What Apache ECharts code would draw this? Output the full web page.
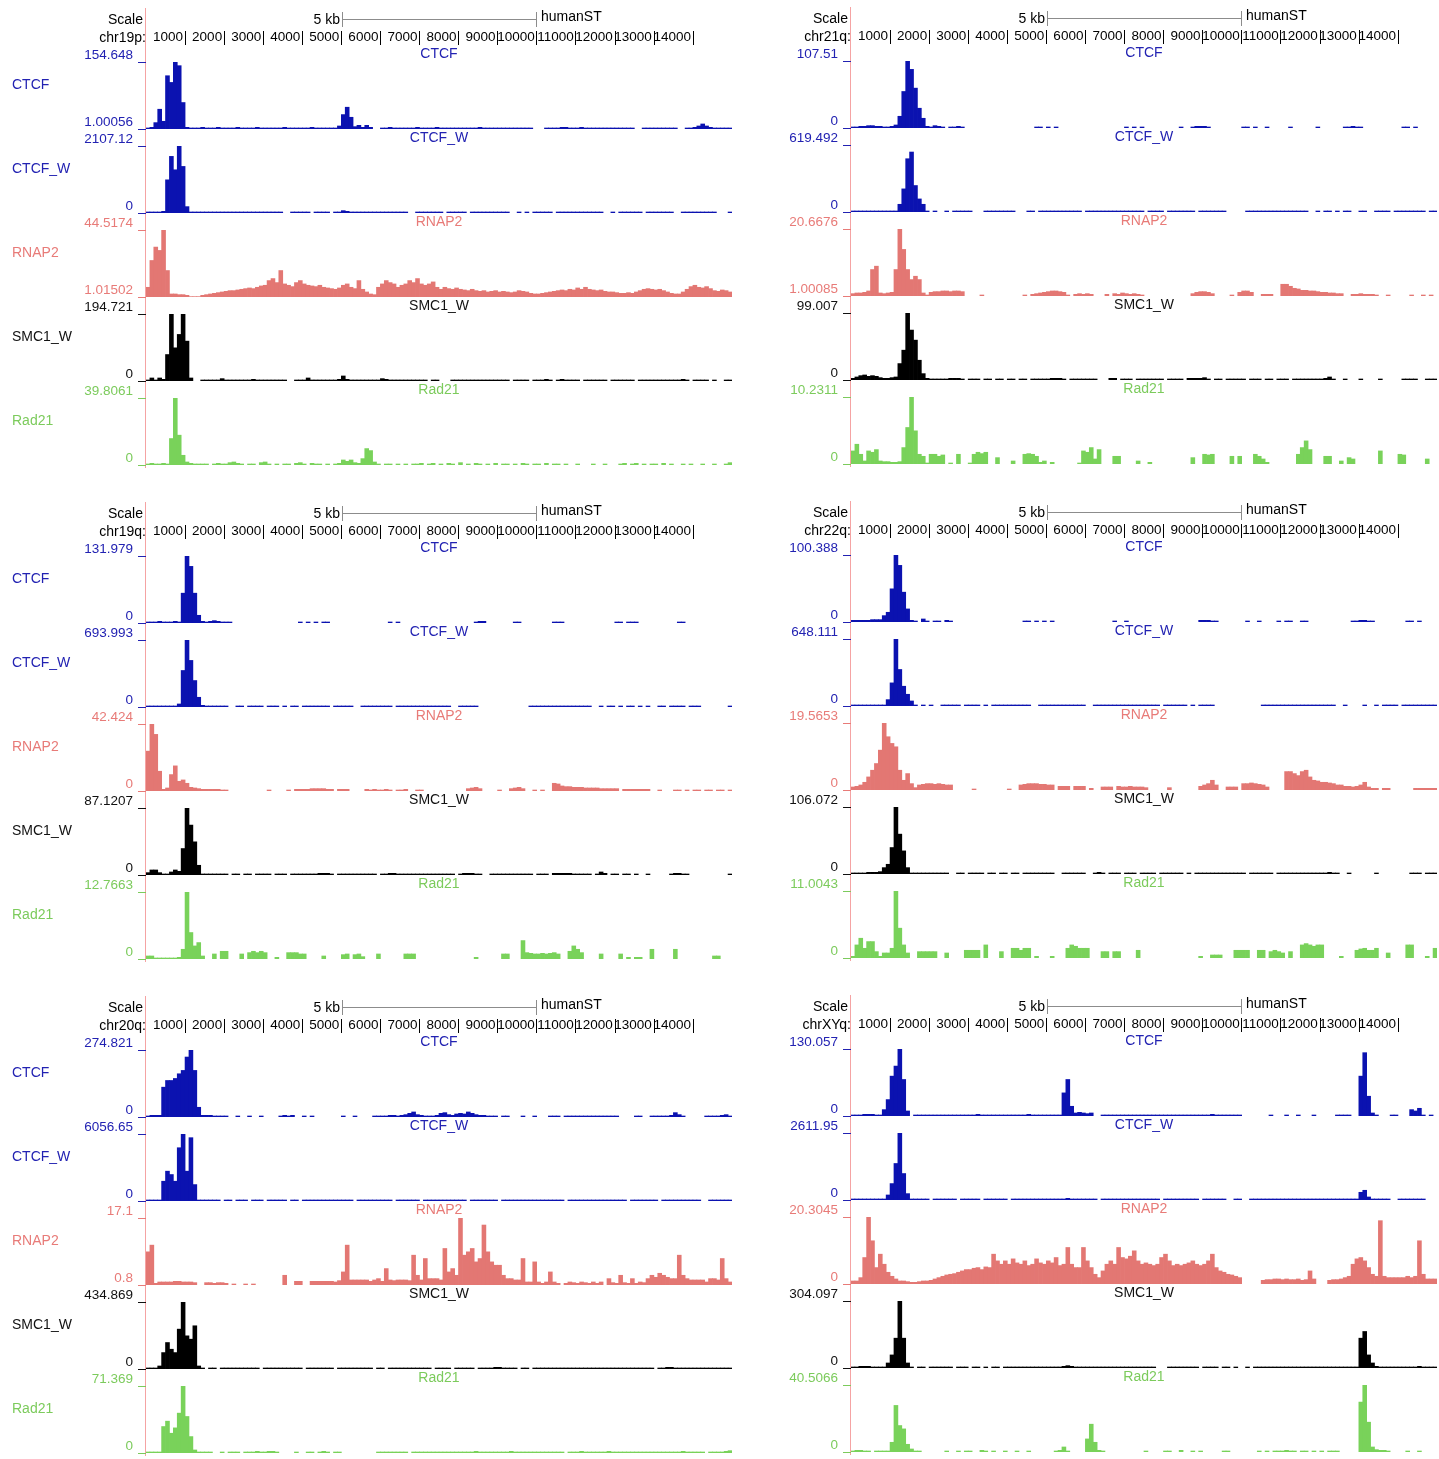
<!DOCTYPE html>
<html>
<head>
<meta charset="utf-8">
<script src="https://cdn.jsdelivr.net/npm/echarts@6/dist/echarts.min.js"></script>
<style>
  html, body { margin: 0; background: #fff; }
  #chart { width: 1439px; height: 1459px; }
</style>
</head>
<body>
<div id="chart"></div>
<script>
const _ = null;
const FONT = '"Liberation Sans", Arial, sans-serif';

const panelNames = ['chr19p', 'chr21q', 'chr19q', 'chr22q', 'chr20q', 'chrXYq'];
const trackNames = ['CTCF', 'CTCF_W', 'RNAP2', 'SMC1_W', 'Rad21'];
const trackColors = ['#0b12b0', '#0b12b0', '#e37773', '#000000', '#79d25a'];
const labelColors = ['#2222b2', '#2222b2', '#e87b78', '#111111', '#7ccb5c'];
const rulerTicks = [1000, 2000, 3000, 4000, 5000, 6000, 7000, 8000, 9000, 10000, 11000, 12000, 13000, 14000];

// view limits shown at the left of every track (per panel, per track)
const viewMax = [
  ['154.648', '2107.12', '44.5174', '194.721', '39.8061'],
  ['107.51', '619.492', '20.6676', '99.007', '10.2311'],
  ['131.979', '693.993', '42.424', '87.1207', '12.7663'],
  ['100.388', '648.111', '19.5653', '106.072', '11.0043'],
  ['274.821', '6056.65', '17.1', '434.869', '71.369'],
  ['130.057', '2611.95', '20.3045', '304.097', '40.5066']
];
const viewMin = [
  ['1.00056', '0', '1.01502', '0', '0'],
  ['0', '0', '1.00085', '0', '0'],
  ['0', '0', '0', '0', '0'],
  ['0', '0', '0', '0', '0'],
  ['0', '0', '0.8', '0', '0'],
  ['0', '0', '0', '0', '0']
];

// signal in % of the track's view range, 100 bp bins over 0-15 kb (null = no data)
const p1ctcf = [2,3,10,30,12,80,70,100,95,40, 3,2,2,2,3,2,2,2,3,2, 2,2,2,3,2,2,2,2,3,2,
  2,2,2,2,2,3,2,2,2,2, 2,2,3,2,2,2,2,2,2,5, 22,33,18,4,6,3,6,3,_,_,
  2,2,3,2,2,2,2,2,2,3, 2,2,2,2,3,2,2,2,2,2, 2,2,2,2,2,3,2,2,2,2,
  2,2,2,2,2,2,2,2,2,_, _,_,2,2,2,2,3,3,2,2, 2,3,2,2,2,2,2,2,2,2,
  2,2,2,2,2,_,_,2,2,2, 2,2,2,2,2,2,_,_,2,2, 3,5,8,5,3,2,2,2,2,2];
const p1ctcfW = [2,2,2,2,3,50,85,65,100,70, 10,2,2,2,2,2,2,2,2,2, 2,2,2,2,2,2,2,2,2,2,
  2,2,2,2,2,_,_,2,2,2, 2,2,_,2,2,2,2,_,2,2, 4,3,2,2,2,2,2,2,2,2,
  2,2,2,2,2,2,2,_,_,2, 2,2,2,2,2,2,_,2,2,2, 2,2,_,2,2,2,2,2,2,2,
  2,2,2,_,_,2,_,2,_,2, 2,2,2,2,_,2,2,2,2,2, 2,2,2,2,2,2,2,_,_,2,
  _,2,2,2,2,2,2,_,2,2, 2,2,2,2,2,_,_,2,2,2, 2,2,2,2,2,2,_,_,_,2];
const p1rnap2 = [15,55,75,70,100,40,5,5,4,4, 3,1,1,1,3,4,5,6,7,8, 9,10,10,11,12,13,14,13,15,17,
  18,25,28,22,40,20,18,16,22,25, 20,18,17,16,18,15,14,13,12,14, 18,20,15,13,25,12,8,5,4,15,
  20,25,22,20,15,18,20,25,22,28, 20,18,20,23,15,12,15,13,12,14, 12,11,10,12,10,9,10,8,9,10,
  8,9,8,7,8,10,9,8,6,5, 5,6,7,8,9,10,11,10,12,11, 14,12,15,12,11,10,11,9,8,8,
  7,6,6,7,6,8,10,12,13,12, 11,12,10,8,6,5,5,8,12,16, 18,15,14,16,13,10,9,11,10,8];
const p1smc1W = [2,5,2,5,3,40,100,50,70,100, 60,5,_,_,2,2,2,2,2,4, 2,2,2,2,2,2,2,3,2,2,
  2,2,2,2,2,2,_,_,2,2, 2,5,2,2,2,2,2,2,2,3, 8,3,2,2,2,2,2,2,2,2,
  4,3,2,2,2,2,2,2,2,2, 2,2,_,2,2,_,_,_,2,2, 2,2,2,2,2,2,2,2,2,2,
  2,2,2,_,2,2,2,2,_,2, 2,2,3,2,_,2,3,2,2,2, 2,_,2,2,2,2,2,2,_,2,
  2,2,2,2,2,_,2,2,2,2, 2,2,2,2,2,2,2,3,2,_, 2,2,2,2,_,2,_,_,2,2];
const p1rad21 = [2,3,2,2,3,2,40,100,45,15, 5,3,2,2,2,2,_,2,3,2, 2,4,5,3,2,_,2,2,_,4,
  5,2,_,2,_,2,2,_,3,4, 2,_,3,2,2,_,2,_,2,3, 8,6,8,4,3,10,25,22,5,2,
  _,2,2,_,2,_,2,_,2,2, 3,_,2,3,_,2,_,3,2,_, 4,_,2,_,3,2,_,2,_,3,
  _,2,2,_,2,_,3,2,_,2, 2,_,3,_,2,2,_,2,_,_, 2,_,_,_,2,_,_,2,_,_,
  _,2,3,_,2,3,_,2,_,2, 2,_,3,_,2,_,_,2,_,2, _,_,2,_,_,2,_,_,2,4];

const p2ctcf = [2,2,3,3,4,4,3,3,2,2, 3,5,18,55,100,88,60,30,15,3, 2,4,3,2,_,2,2,3,2,_,
  _,_,_,_,_,_,_,_,_,_, _,_,_,_,_,_,_,2,2,_, 2,_,2,_,_,_,_,_,_,_,
  _,_,_,_,_,_,_,_,_,_, 2,_,2,_,2,_,_,_,_,_, _,_,_,_,2,_,_,2,3,3,
  3,2,_,_,_,_,_,_,_,_, 2,2,_,2,_,_,2,_,_,_, _,_,2,_,_,_,_,_,_,2,
  _,_,_,_,_,_,2,2,3,2, 2,_,_,_,_,_,_,_,_,_, _,2,2,_,2,_,_,_,_,_];
const p2ctcfW = [2,2,2,2,2,2,2,2,2,2, 2,2,12,35,80,90,40,20,12,2, _,2,_,_,2,_,2,2,2,2,
  2,_,_,_,2,2,2,2,2,2, 2,2,_,_,_,2,2,_,2,2, 2,2,2,2,2,2,2,2,2,_,
  2,2,2,2,2,2,2,2,2,2, 2,2,2,2,2,_,2,2,2,2, _,2,2,2,2,2,2,2,_,2,
  2,2,2,2,2,2,_,_,_,_, _,2,2,2,2,2,2,2,2,2, 2,2,2,2,2,2,2,_,_,2,
  _,2,2,_,2,_,2,2,_,_, 2,2,_,_,2,2,2,2,_,2, 2,2,2,2,2,2,2,_,2,2];
const p2rnap2 = [4,5,5,6,8,40,45,5,4,5, 6,40,100,70,40,25,30,25,5,2, 6,7,7,8,8,7,8,8,7,_,
  _,_,_,2,_,_,_,_,_,_, _,_,_,_,2,_,3,4,5,6, 7,8,8,7,6,2,_,3,4,3,
  4,3,_,_,_,3,_,4,3,5, 4,3,4,3,2,_,_,_,_,_, _,_,_,_,_,_,_,4,6,7,
  7,6,4,_,_,_,_,2,_,6, 8,8,6,_,_,3,3,3,_,_, 18,18,15,12,11,9,9,8,8,7,
  6,6,5,5,4,4,_,_,3,3, 4,3,3,3,2,_,_,2,_,_, _,_,_,2,_,_,2,_,2,_];
const p2smc1W = [3,5,7,8,6,7,6,4,3,3, 4,5,25,45,100,75,60,30,10,3, 2,2,2,2,2,3,3,3,2,_,
  2,2,2,_,2,2,_,2,2,_, 2,2,_,2,2,_,2,2,2,2, 2,3,3,3,2,_,2,2,2,2,
  2,2,2,_,_,_,3,3,_,2, 2,2,_,2,2,2,2,2,2,2, _,2,2,2,2,_,3,3,3,3,
  4,2,_,2,2,_,2,2,2,2, 2,_,2,2,2,_,2,2,_,2, 2,2,_,2,2,2,2,2,2,2,
  2,3,5,2,_,_,2,_,_,_, 2,_,_,_,_,2,_,_,_,_, _,2,2,2,2,_,_,2,2,2];
const p2rad21 = [20,30,15,5,20,18,22,5,4,4, 3,3,4,25,55,100,50,15,12,2, 15,15,12,14,_,2,_,15,_,_,
  2,15,18,16,18,_,_,10,_,_, _,5,_,_,15,16,15,12,3,5, _,3,_,_,_,_,_,_,2,20,
  18,25,8,22,_,_,_,12,12,_, _,_,_,5,_,_,3,_,_,_, _,_,_,_,_,_,_,10,_,_,
  15,14,15,_,_,_,_,12,_,12, _,_,_,15,12,8,3,_,_,_, _,_,_,_,15,25,35,22,_,_,
  _,12,12,_,_,5,_,10,8,_, _,_,_,_,_,20,_,_,_,_, 15,14,_,_,_,_,_,8,_,_];

const p3ctcf = [2,2,2,3,2,2,2,3,2,45, 100,85,45,12,3,2,3,4,3,2, 2,2,_,_,_,_,_,_,_,_,
  _,_,_,_,_,_,_,_,_,2, _,2,_,2,_,2,2,_,_,_, _,_,_,_,_,_,_,_,_,_,
  _,_,2,_,2,_,_,_,_,_, _,_,_,_,_,_,_,_,_,_, _,_,_,_,2,3,3,_,_,_,
  _,_,_,_,2,2,_,_,_,_, _,_,_,_,2,2,2,_,_,_, _,_,_,_,_,_,_,_,_,_,
  2,2,_,2,2,2,_,_,_,_, _,_,_,_,_,_,2,2,_,_, _,_,_,_,_,_,_,_,_,_];
const p3ctcfW = [2,2,2,2,2,2,2,2,5,55, 100,70,40,15,3,2,2,2,2,2, 2,_,_,2,2,_,2,2,2,2,
  _,2,2,2,_,2,_,2,2,_, 2,2,2,2,2,2,2,_,2,2, 2,2,2,_,_,2,2,2,2,2,
  2,2,2,_,2,2,2,2,2,2, 2,2,2,2,2,2,2,2,_,_, 2,2,2,2,2,_,_,_,_,_,
  _,_,_,_,_,_,_,_,2,2, 2,2,2,2,2,2,2,2,2,2, 2,2,2,2,_,_,2,_,2,2,
  _,2,_,2,2,_,2,_,2,_, _,2,2,_,2,2,2,2,_,2, 2,2,_,_,_,_,_,_,_,2];
const p3rnap2 = [60,100,85,30,3,5,25,38,15,17, 12,6,5,4,3,3,3,3,3,2, 2,_,_,_,_,_,_,_,_,_,
  _,2,_,_,_,_,2,_,3,3, 3,3,4,4,4,4,3,3,_,3, 3,3,_,_,_,_,3,2,3,2,
  2,3,2,_,2,2,3,_,_,2, 2,_,_,_,_,_,_,_,_,_, _,_,4,5,6,4,_,_,_,_,
  2,_,_,4,5,6,4,_,_,2, _,2,_,_,12,11,8,7,7,6, 6,6,5,5,5,5,4,4,4,4,
  4,_,3,3,3,3,3,3,3,_, _,2,_,_,_,2,2,_,2,_, 2,2,_,2,2,_,2,2,_,2];
const p3smc1W = [4,8,8,4,2,2,5,8,6,40, 100,75,50,15,2,2,2,2,2,2, 2,_,2,2,_,2,2,_,2,2,
  2,2,_,2,2,2,_,2,2,2, 2,2,2,2,3,3,3,2,_,2, 2,2,2,2,2,2,2,2,2,_,
  2,2,3,3,2,2,2,2,2,2, 2,2,2,2,2,2,2,2,2,_, 2,3,3,3,2,2,_,_,2,2,
  2,2,2,2,2,2,2,2,2,_, 2,2,2,_,3,3,3,3,3,2, 2,2,2,2,_,2,5,3,_,2,
  2,_,2,2,_,2,_,_,2,_, _,_,_,_,2,3,3,2,2,_, _,_,_,_,_,_,_,_,_,2];
const p3rad21 = [5,5,2,2,2,2,2,2,3,15, 100,40,20,25,5,_,_,8,_,12, 12,_,_,_,8,_,10,12,10,12,
  10,_,_,3,_,_,10,10,10,8, 8,_,_,_,_,5,_,_,_,_, 7,8,_,7,8,4,_,_,_,8,
  _,_,_,_,_,_,8,8,8,_, _,_,_,_,_,_,_,_,_,_, _,_,_,_,3,_,_,_,_,_,
  _,8,8,_,_,_,28,10,9,8, 8,9,8,9,10,8,_,_,12,20, 15,10,_,_,_,_,8,_,_,_,
  _,8,_,3,_,3,3,_,_,15, _,_,_,_,_,15,_,_,_,_, _,_,_,_,_,5,5,_,_,_];

const p4ctcf = [3,3,3,3,3,4,4,4,10,15, 50,100,85,45,20,3,2,_,5,2, _,2,2,_,3,2,_,_,_,_,
  _,_,_,_,_,_,_,_,_,_, _,_,_,_,2,2,_,2,_,2, _,2,_,_,_,_,_,_,_,_,
  _,_,_,_,_,_,_,2,_,_, 2,_,_,_,_,_,_,_,_,_, _,_,_,_,_,_,_,_,_,3,
  3,3,2,2,_,_,_,_,_,_, _,2,_,_,2,_,_,_,_,2, _,2,2,_,_,2,2,_,_,_,
  _,_,_,_,_,_,_,_,2,2, 3,3,2,2,_,_,_,_,_,_, _,_,2,2,_,2,_,_,_,_];
const p4ctcfW = [2,2,2,2,2,2,2,2,2,10, 35,100,55,30,18,8,2,_,2,_, 2,_,_,2,2,2,2,2,_,2,
  2,2,2,_,2,_,2,2,2,2, 2,2,2,2,2,2,_,_,2,2, 2,2,2,2,2,2,2,2,2,2,
  _,_,2,2,2,2,2,2,2,2, 2,2,2,2,2,2,2,2,2,_, 2,2,2,2,2,2,_,2,_,2,
  2,2,2,_,_,_,_,_,_,_, _,_,_,_,_,2,2,2,2,2, 2,2,2,2,2,2,2,2,2,2,
  2,2,2,2,_,_,2,_,_,_, _,2,_,_,2,_,2,2,2,2, _,2,2,2,2,2,2,2,2,2];
const p4rnap2 = [5,6,8,12,20,30,40,60,100,80, 70,65,30,15,25,10,4,8,9,10, 10,9,10,9,8,8,_,_,_,_,
  _,2,_,_,_,_,_,_,_,_, 2,_,_,8,9,10,10,10,9,9, 8,8,_,6,6,6,_,6,6,6,
  _,3,_,_,5,5,5,_,6,5, 5,6,5,5,5,4,_,_,_,_, _,4,_,_,_,_,_,_,_,6,
  8,10,15,8,_,_,5,5,5,_, 10,10,11,10,9,8,5,_,_,_, _,28,28,25,22,28,30,20,15,14,
  12,12,11,10,8,8,6,6,5,6, 8,12,5,3,3,_,3,3,_,_, _,_,_,_,3,3,3,3,3,3];
const p4smc1W = [2,2,2,2,3,3,3,4,10,15, 40,100,60,35,10,2,2,2,2,2, 2,2,2,2,2,_,_,2,2,_,
  2,2,2,2,_,2,2,_,2,2, _,2,2,_,2,2,2,2,2,2, 2,2,_,_,2,2,2,2,2,2,
  _,_,2,3,2,_,2,2,2,_, 2,2,2,_,2,2,2,2,_,2, 2,2,2,2,2,_,2,_,2,2,
  2,2,2,2,2,2,2,2,2,2, 2,_,2,2,2,2,2,2,_,2, 2,2,2,2,2,2,2,2,2,2,
  2,2,3,2,2,_,_,2,_,_, _,_,_,_,2,_,_,_,_,_, _,_,_,2,2,2,_,2,2,2];
const p4rad21 = [3,20,30,15,25,25,10,3,8,8, 15,100,45,20,8,_,_,10,10,10, 10,10,_,_,8,_,_,_,_,12,
  12,12,12,_,20,_,_,_,10,_, _,15,15,12,15,15,_,3,_,_, _,3,_,_,_,15,20,18,15,15,
  15,_,_,_,10,10,_,10,10,_, _,_,_,12,_,_,_,_,_,_, _,_,_,_,_,_,_,_,_,3,
  _,_,5,5,5,_,_,_,12,12, 12,12,_,_,12,12,_,10,12,10, 8,_,10,_,_,20,22,20,18,20,
  20,_,_,_,_,3,_,_,_,12, 14,15,12,12,15,_,_,8,_,_, _,_,20,20,_,_,_,3,_,15];

const p5ctcf = [2,3,3,3,45,55,55,58,65,70, 90,100,70,15,3,3,3,2,2,2, 2,_,_,2,_,_,2,_,_,2,
  _,_,_,_,2,3,2,3,_,_, 2,_,2,_,_,_,_,_,_,_, 2,_,_,2,_,_,_,_,2,2,
  2,2,3,3,2,3,4,6,8,4, 3,2,2,2,3,6,7,4,3,5, 6,5,8,6,4,3,3,2,2,2,
  _,2,2,_,_,_,2,_,_,2, _,_,_,2,2,2,_,2,2,2, 2,2,2,2,2,2,2,2,2,2,
  2,_,_,_,_,2,2,_,_,2, 2,2,2,2,3,7,4,2,_,_, _,_,_,2,2,2,2,3,4,2];
const p5ctcfW = [2,2,2,2,30,45,40,30,80,100, 45,95,25,2,2,2,2,2,2,_, 2,2,_,2,2,2,_,2,2,2,
  _,2,2,2,2,2,_,2,2,_, 2,2,2,2,2,2,2,2,2,2, 2,2,2,_,2,2,2,2,2,2,
  2,2,2,_,2,2,2,2,2,2, _,2,2,2,2,2,2,2,2,2, 2,2,_,2,2,2,2,2,2,2,
  _,2,2,2,2,2,2,2,2,2, 2,2,2,2,2,2,2,_,2,2, 2,2,2,2,2,2,2,2,2,2,
  2,2,2,_,2,2,2,2,2,2, 2,_,2,2,2,2,2,2,2,2, 2,2,_,_,2,2,2,2,2,2];
const p5rnap2 = [50,60,3,5,5,5,5,6,6,5, 5,5,4,_,_,4,4,3,4,4, 3,_,2,_,_,2,_,2,_,_,
  _,_,_,_,_,15,_,_,6,6, _,_,6,6,6,6,6,6,5,7, 20,60,8,8,8,8,8,6,8,10,
  6,25,8,7,8,8,8,7,45,15, 8,40,10,10,10,8,55,20,25,15, 100,45,50,55,35,40,90,50,35,30,
  30,15,10,10,8,8,40,5,5,35, 5,3,5,20,5,3,_,3,5,4, 3,5,4,3,5,3,5,_,10,4,
  3,15,4,3,10,3,5,4,10,15, 12,18,15,12,10,10,45,15,10,8, 8,8,8,5,10,10,8,40,10,5];
const p5smc1W = [2,2,2,5,25,40,30,25,60,100, 50,45,65,5,2,_,2,2,_,2, 2,2,2,2,2,2,2,2,2,_,
  2,2,2,2,2,2,2,2,2,2, _,2,2,2,2,2,2,2,_,2, 2,2,2,2,2,2,2,2,_,2,
  2,_,2,2,2,2,2,2,2,2, 2,2,2,_,2,2,2,2,_,2, 2,2,2,2,_,2,2,2,2,3,
  3,2,2,2,2,_,2,2,_,2, 2,2,2,2,2,2,2,2,2,2, 2,2,2,2,2,2,2,2,2,2,
  2,2,2,2,2,2,2,2,2,2, _,2,2,3,3,2,2,2,2,2, 2,2,2,2,2,2,2,2,2,2];
const p5rad21 = [2,2,2,2,40,48,30,38,60,100, 55,25,5,2,2,2,2,_,_,2, _,2,2,2,_,2,2,2,3,2,
  2,3,3,2,_,_,_,_,2,_, _,2,2,_,2,3,2,_,2,2, _,_,_,_,_,_,_,_,_,2,
  2,2,2,2,2,2,2,_,2,2, 2,2,2,2,2,2,2,2,2,2, 2,2,2,2,3,2,2,2,2,2,
  2,2,2,3,2,2,2,2,2,2, 2,2,2,2,2,2,2,_,2,2, 2,3,2,2,2,2,2,2,3,2,
  2,2,2,2,2,2,2,2,2,2, 2,2,2,2,2,2,2,3,2,2, 2,2,2,_,2,2,2,2,3,4];

const p6ctcf = [2,2,2,3,3,3,2,2,10,25, 60,75,100,55,8,_,2,2,2,2, 2,2,2,2,2,2,2,2,2,2,
  2,2,3,2,2,2,2,2,2,2, 2,2,2,2,2,3,2,2,2,2, 2,2,2,2,35,55,15,5,6,5,
  4,5,_,_,2,2,2,2,2,2, 2,2,2,2,2,2,2,2,2,2, 2,2,2,2,2,2,2,2,2,2,
  2,2,3,2,2,2,2,2,2,2, _,_,_,_,_,_,_,2,_,_, _,2,_,_,2,_,_,_,2,_,
  _,_,_,_,2,2,2,2,_,_, 60,95,30,5,2,_,_,_,2,2, _,_,_,10,8,12,2,_,2,_];
const p6ctcfW = [2,2,2,2,2,2,2,2,2,8, 25,55,100,40,10,2,2,2,2,2, _,2,2,2,2,2,2,_,2,2,
  2,2,2,_,2,2,2,2,2,2, _,2,2,2,2,2,2,2,2,2, 2,2,2,2,2,3,2,2,2,2,
  2,2,2,_,2,2,2,2,2,2, 2,2,2,2,2,2,2,2,2,_, 2,2,2,2,2,2,2,2,2,_,
  2,2,2,2,2,2,_,_,2,2, _,_,2,2,2,2,2,2,2,2, 2,2,2,2,2,2,2,2,2,2,
  2,2,2,2,2,2,2,2,2,2, 12,15,5,2,2,2,2,2,_,_, 2,2,2,2,2,2,2,_,_,_];
const p6rnap2 = [5,5,10,40,100,65,25,45,30,18, 12,8,5,5,4,3,3,4,5,5, 6,8,10,12,14,15,16,18,20,22,
  22,24,25,22,26,25,45,35,30,35, 30,38,32,30,35,28,30,38,32,30, 35,32,40,28,30,55,30,25,25,55,
  35,25,15,10,20,30,35,30,55,40, 38,42,50,35,30,32,30,28,30,40, 45,35,28,30,28,30,32,35,30,28,
  30,35,45,25,20,18,15,14,12,10, _,_,_,_,_,6,7,7,8,8, 7,8,7,7,8,6,7,20,8,_,
  _,_,6,7,7,8,10,12,30,38, 40,35,25,15,12,95,12,10,10,10, 10,10,12,10,12,65,15,8,8,8];
const p6smc1W = [2,2,3,3,3,2,2,2,2,8, 20,45,100,45,8,2,_,2,2,_, 2,2,2,2,2,2,_,2,2,2,
  _,2,2,_,2,_,2,2,_,2, 2,2,2,2,2,2,2,2,2,2, 2,2,2,2,3,4,3,2,2,2,
  2,2,2,2,2,2,2,2,2,2, 2,2,2,2,2,2,2,2,_,_, _,2,2,2,2,2,2,2,2,_,
  2,2,2,2,_,2,2,_,2,_, _,2,_,2,2,2,2,2,2,2, 2,2,2,2,2,2,2,2,2,2,
  2,2,2,2,2,2,2,2,2,2, 45,55,20,8,3,2,2,2,2,2, 2,2,2,2,2,3,2,2,2,2];
const p6rad21 = [2,3,3,2,2,_,2,2,2,2, 15,70,40,35,12,5,2,2,_,_, _,_,_,_,2,_,_,2,_,2,
  2,_,_,3,2,_,2,_,_,2, _,_,2,_,_,2,_,_,_,_, _,_,2,3,8,2,_,_,_,_,
  20,42,15,3,2,_,_,_,_,_, _,_,_,_,_,2,_,_,_,_, 2,2,_,_,3,_,_,2,_,2,
  _,_,_,_,_,2,2,_,_,_, _,_,_,_,2,_,2,_,2,2, 2,3,2,2,_,2,2,_,2,_,
  2,_,2,2,2,_,_,_,_,_, 75,100,45,8,4,3,3,2,_,_, _,_,2,_,_,2,_,_,_,_];

const panelData = [
  [p1ctcf, p1ctcfW, p1rnap2, p1smc1W, p1rad21],
  [p2ctcf, p2ctcfW, p2rnap2, p2smc1W, p2rad21],
  [p3ctcf, p3ctcfW, p3rnap2, p3smc1W, p3rad21],
  [p4ctcf, p4ctcfW, p4rnap2, p4smc1W, p4rad21],
  [p5ctcf, p5ctcfW, p5rnap2, p5smc1W, p5rad21],
  [p6ctcf, p6ctcfW, p6rnap2, p6smc1W, p6rad21]
];

const bins = p1ctcf.map((v, i) => i * 100);

const chart = echarts.init(document.getElementById('chart'));
const grid = [], xAxis = [], yAxis = [], series = [], graphic = [];

function text(str, x, y, color, align, size) {
  graphic.push({
    type: 'text', silent: true,
    style: {
      text: str, x: x, y: y, fill: color, font: (size || 14) + 'px ' + FONT,
      align: align, verticalAlign: 'middle', textAlign: align, textVerticalAlign: 'middle'
    }
  });
}
function line(x1, y1, x2, y2, color) {
  graphic.push({
    type: 'line', silent: true,
    shape: { x1: x1, y1: y1, x2: x2, y2: y2 },
    style: { stroke: color, lineWidth: 1 }
  });
}

panelData.forEach((tracks, p) => {
  const col = p % 2;
  const row = Math.floor(p / 2);
  const left = col ? 851 : 146;
  const dx = col ? 705 : 0;
  const dy = 494 * row - col;

  // header
  line(145.5 + dx, 8 + dy, 145.5 + dx, 468 + dy, '#f5a3a3');
  text('Scale', 143 + dx, 20 + dy, '#000', 'right');
  text(panelNames[p] + ':', 146 + dx, 38 + dy, '#000', 'right');
  text('5 kb', 340 + dx, 20 + dy, '#000', 'right');
  text('humanST', 541 + dx, 17 + dy, '#000', 'left');
  line(342 + dx, 19.5 + dy, 536 + dx, 19.5 + dy, '#8c8c8c');
  line(342.5 + dx, 12 + dy, 342.5 + dx, 27 + dy, '#8c8c8c');
  line(536.5 + dx, 12 + dy, 536.5 + dx, 27 + dy, '#8c8c8c');

  // base ruler
  const rg = grid.length;
  grid.push({ left: left, top: 31 + dy, width: 586, height: 14 });
  xAxis.push({
    type: 'value', gridIndex: rg, min: 0, max: 15000, position: 'bottom',
    axisLine: { show: false }, splitLine: { show: false },
    axisTick: { show: true, inside: true, length: 14, customValues: rulerTicks, lineStyle: { color: '#000' } },
    axisLabel: {
      customValues: rulerTicks, align: 'right', verticalAlign: 'bottom', margin: -1,
      padding: [0, 2, 0, 0], fontSize: 13.5, color: '#000', fontFamily: FONT,
      hideOverlap: false, showMinLabel: true, showMaxLabel: true,
      formatter: v => String(v)
    }
  });
  yAxis.push({ type: 'value', gridIndex: rg, show: false });

  tracks.forEach((vals, k) => {
    const lo = parseFloat(viewMin[p][k]);
    const hi = parseFloat(viewMax[p][k]);
    const top = 62 + dy + 84 * k;
    const gi = grid.length;
    grid.push({ left: left, top: top, width: 586, height: 67 });
    xAxis.push({ type: 'category', gridIndex: gi, data: bins, show: false });
    yAxis.push({
      type: 'value', gridIndex: gi, min: lo, max: hi,
      axisLine: { show: false }, splitLine: { show: false },
      axisTick: { show: true, length: 8, customValues: [lo, hi], lineStyle: { color: labelColors[k] } },
      axisLabel: {
        customValues: [lo, hi], margin: 13, verticalAlign: 'bottom',
        fontSize: 13.5, color: labelColors[k], fontFamily: FONT,
        formatter: v => (Math.abs(v - lo) < 1e-9 ? viewMin[p][k] : viewMax[p][k])
      }
    });
    // bars a touch wider than a bin so neighbouring bins join into one filled profile
    series.push({
      type: 'bar', xAxisIndex: gi, yAxisIndex: gi, silent: true, clip: true,
      barWidth: 4.6,
      itemStyle: { color: trackColors[k] },
      data: vals.map(v => (v == null ? null : lo + v * (hi - lo) / 100))
    });

    text(trackNames[k], left + 293, top - 8, labelColors[k], 'center');
    if (col === 0) text(trackNames[k], 12, top + 23, labelColors[k], 'left');
  });
});

chart.setOption({
  animation: false,
  textStyle: { fontFamily: FONT },
  grid: grid,
  xAxis: xAxis,
  yAxis: yAxis,
  series: series,
  graphic: graphic
});
</script>
</body>
</html>
